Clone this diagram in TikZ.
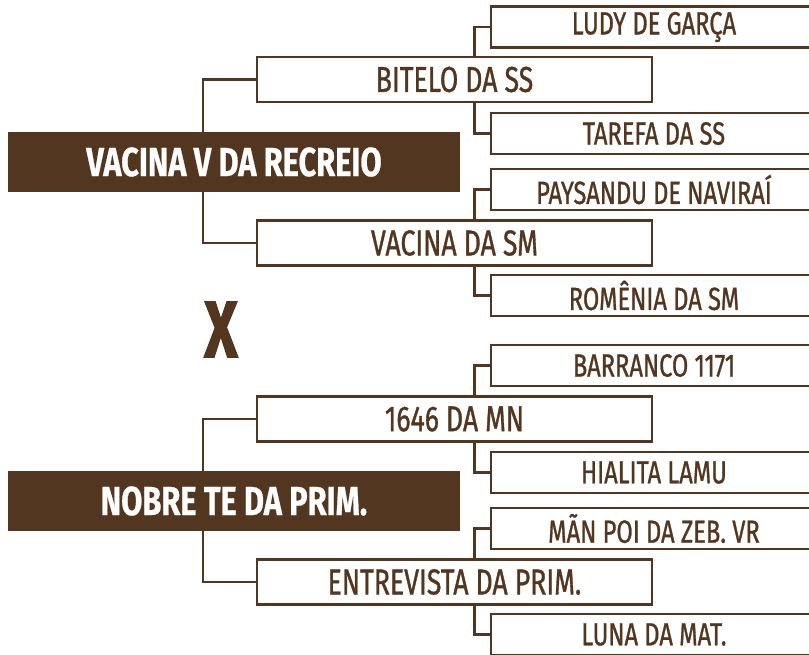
\documentclass[tikz,border=0pt]{standalone}
\usepackage{fontspec}
\setmainfont[FakeStretch=0.74]{Fira Sans}
\newfontfamily\medfont[FakeStretch=0.74,FakeBold=0.9]{Fira Sans}
\newfontfamily\rootfont[FakeStretch=0.76,FakeBold=0.6]{Fira Sans}
\newfontfamily\xfont[FakeStretch=0.72,FakeBold=1.5]{Fira Sans}
\definecolor{brn}{HTML}{53361F}
\begin{document}
\begin{tikzpicture}[x=1pt,y=-1pt,
  rootbox/.style={fill=brn,draw=none,minimum width=452pt,minimum height=60pt,inner sep=0pt,
    text=white,font=\rootfont\fontsize{40.5}{40}\selectfont\bfseries},
  midbox/.style={draw=brn,line width=2.6pt,fill=white,minimum width=395pt,minimum height=45pt,inner sep=0pt,
    text=brn,font=\medfont\fontsize{36}{36}\selectfont},
  leafbox/.style={draw=brn,line width=2.6pt,fill=white,minimum width=326pt,minimum height=41pt,inner sep=0pt,
    text=brn,font=\medfont\fontsize{32}{32}\selectfont},
  link/.style={draw=brn,line width=2.6pt}]
\useasboundingbox (0,0) rectangle (809,654);
\begin{scope}
\clip (0,0) rectangle (809,654);
% roots
\node[rootbox] (r1) at (234,162) {VACINA V DA RECREIO};
\node[rootbox] (r2) at (234,501) {NOBRE TE DA PRIM.};
% mids
\node[midbox] (m1) at (454.5,79.5) {BITELO DA SS};
\node[midbox] (m2) at (454.5,243) {VACINA DA SM};
\node[midbox] (m3) at (454.5,419) {1646 DA MN};
\node[midbox] (m4) at (454.5,582) {ENTREVISTA DA PRIM.};
% leaves
\node[leafbox] (l1) at (654,27) {LUDY DE GARÇA};
\node[leafbox] (l2) at (654,133.5) {TAREFA DA SS};
\node[leafbox] (l3) at (654,189.5) {PAYSANDU DE NAVIRAÍ};
\node[leafbox] (l4) at (654,295.5) {ROMÊNIA DA SM};
\node[leafbox] (l5) at (654,365.5) {BARRANCO 1171};
\node[leafbox] (l6) at (654,472.5) {HIALITA LAMU};
\node[leafbox] (l7) at (654,528.5) {MÃN POI DA ZEB. VR};
\node[leafbox] (l8) at (654,634.5) {LUNA DA MAT.};
% X
\node[text=brn,font=\xfont\fontsize{80}{80}\selectfont\bfseries] (xx) at (221,329.5) {X};
% connectors
\draw[link] ([xshift=195pt]r1.north west) |- (m1.west);
\draw[link] ([xshift=195pt]r1.south west) |- (m2.west);
\draw[link] ([xshift=195pt]r2.north west) |- (m3.west);
\draw[link] ([xshift=195pt]r2.south west) |- (m4.west);
\draw[link] ([xshift=219pt]m1.north west) |- (l1.west);
\draw[link] ([xshift=219pt]m1.south west) |- (l2.west);
\draw[link] ([xshift=219pt]m2.north west) |- (l3.west);
\draw[link] ([xshift=219pt]m2.south west) |- (l4.west);
\draw[link] ([xshift=219pt]m3.north west) |- (l5.west);
\draw[link] ([xshift=219pt]m3.south west) |- (l6.west);
\draw[link] ([xshift=219pt]m4.north west) |- (l7.west);
\draw[link] ([xshift=219pt]m4.south west) |- (l8.west);
\end{scope}
\end{tikzpicture}
\end{document}
